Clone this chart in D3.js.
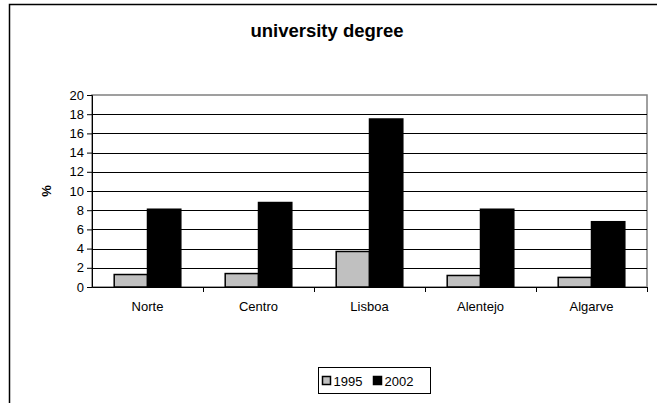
<!DOCTYPE html>
<html>
<head>
<meta charset="utf-8">
<script src="https://cdn.jsdelivr.net/npm/d3@7"></script>
<style>
  body { margin: 0; background: #fff; }
  svg { display: block; font-family: "Liberation Sans", Arial, sans-serif; }
</style>
</head>
<body>
<div id="chart"></div>
<script>
const regions = ['Norte', 'Centro', 'Lisboa', 'Alentejo', 'Algarve'];
const years = ['1995', '2002'];
const values1995 = [1.3, 1.4, 3.7, 1.2, 1.0];
const values2002 = [8.1, 8.8, 17.5, 8.1, 6.8];
const yTicks = [0, 2, 4, 6, 8, 10, 12, 14, 16, 18, 20];
const colors = ['#c0c0c0', '#000000'];

const svgWidth = 657;
const svgHeight = 403;
const margin = { top: 95, right: 10, bottom: 116, left: 92 };
const width = svgWidth - margin.left - margin.right;
const height = svgHeight - margin.top - margin.bottom;

const svg = d3.select('#chart')
    .append('svg')
    .attr('width', svgWidth)
    .attr('height', svgHeight);

// outer chart border (only left and top visible)
svg.append('rect')
    .attr('x', 9.5).attr('y', 4.5)
    .attr('width', 700).attr('height', 500)
    .attr('fill', 'none').attr('stroke', '#000').attr('stroke-width', 1.5);

svg.append('text')
    .attr('x', 327).attr('y', 37)
    .attr('text-anchor', 'middle')
    .style('font-size', '18.5px').style('font-weight', 'bold')
    .text('university degree');

const g = svg.append('g').attr('transform', `translate(${margin.left}, ${margin.top})`);

const x = d3.scaleBand().domain(regions).range([0, width]).paddingInner(0).paddingOuter(0);
const y = d3.scaleLinear().domain([0, 20]).range([height, 0]);
const barW = x.bandwidth() * 0.3;
const offset = (x.bandwidth() - 2 * barW) / 2;

// plot frame
g.append('rect')
    .attr('width', width).attr('height', height)
    .attr('fill', 'none').attr('stroke', '#808080').attr('stroke-width', 1.5);

// gridlines
g.append('g')
    .selectAll('line')
    .data(yTicks.filter(d => d > 0 && d < 20))
    .join('line')
    .attr('x1', 0).attr('x2', width)
    .attr('y1', d => Math.round(y(d)) + 0.5).attr('y2', d => Math.round(y(d)) + 0.5)
    .attr('stroke', '#000');

const series = [values1995, values2002];
series.forEach((vals, s) => {
    g.append('g')
        .selectAll('rect')
        .data(vals)
        .join('rect')
        .attr('x', (d, i) => x(regions[i]) + offset + s * barW)
        .attr('y', d => y(d))
        .attr('width', barW)
        .attr('height', d => height - y(d))
        .attr('fill', colors[s])
        .attr('stroke', '#000')
        .attr('stroke-width', 1.5);
});

const yAxis = g.append('g')
    .call(d3.axisLeft(y).tickValues(yTicks).tickSize(5).tickPadding(3));
yAxis.select('.domain').attr('stroke', '#000');
yAxis.selectAll('text').style('font-size', '13px').attr('fill', '#000');

const xAxis = g.append('g')
    .attr('transform', `translate(0, ${height})`)
    .call(d3.axisBottom(x).tickSize(0).tickPadding(15));
xAxis.select('.domain').attr('stroke', '#000');
xAxis.selectAll('text').style('font-size', '13px').attr('fill', '#000');
// category separators
g.append('g')
    .selectAll('line')
    .data(regions)
    .join('line')
    .attr('x1', d => Math.round(x(d) + x.bandwidth()) + 0.5)
    .attr('x2', d => Math.round(x(d) + x.bandwidth()) + 0.5)
    .attr('y1', height).attr('y2', height + 5)
    .attr('stroke', '#000');

svg.append('text')
    .attr('transform', 'translate(51, 191) rotate(-90)')
    .attr('text-anchor', 'middle')
    .style('font-size', '13px').style('font-weight', 'bold')
    .text('%');

// legend
const legend = svg.append('g').attr('transform', 'translate(318.5, 367.5)');
legend.append('rect')
    .attr('width', 112).attr('height', 26)
    .attr('fill', '#fff').attr('stroke', '#000');
years.forEach((yr, i) => {
    const lx = 4 + i * 51;
    legend.append('rect')
        .attr('x', lx).attr('y', 9).attr('width', 8).attr('height', 8)
        .attr('fill', colors[i]).attr('stroke', '#000').attr('stroke-width', 1.5);
    legend.append('text')
        .attr('x', lx + 11).attr('y', 18)
        .style('font-size', '13px')
        .text(yr);
});
</script>
</body>
</html>
